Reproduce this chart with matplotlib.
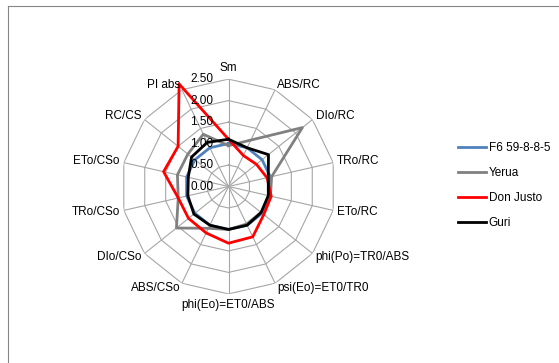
import numpy as np
import matplotlib
matplotlib.use("Agg")
import matplotlib.pyplot as plt
from matplotlib.lines import Line2D

plt.rcParams['font.family'] = ['Liberation Sans', 'DejaVu Sans']

# ------------------------------
# Data
# ------------------------------
labels = ["Sm", "ABS/RC", "DIo/RC", "TRo/RC", "ETo/RC", "phi(Po)=TR0/ABS",
          "psi(Eo)=ET0/TR0", "phi(Eo)=ET0/ABS", "ABS/CSo", "DIo/CSo",
          "TRo/CSo", "ETo/CSo", "RC/CS", "PI abs"]
f6 = [1.0, 1.0, 1.0, 1.0, 1.0, 1.0, 1.0, 1.0, 1.0, 1.0, 1.0, 1.0, 1.0, 1.0]
yerua = [0.95, 1.2, 2.2, 1.03, 1.0, 0.97, 0.97, 1.0, 1.08, 1.55, 1.2, 1.22, 1.21, 1.35]
don_justo = [1.1, 0.8, 0.83, 0.92, 1.02, 1.05, 1.3, 1.32, 1.2, 1.19, 1.2, 1.55, 1.5, 2.65]
guri = [1.1, 1.0, 1.19, 0.95, 0.95, 0.97, 1.0, 1.0, 1.0, 1.03, 0.97, 0.96, 1.1, 1.14]
series_names = ["F6 59-8-8-5", "Yerua", "Don Justo", "Guri"]
r_ticks = [0.0, 0.5, 1.0, 1.5, 2.0, 2.5]

colors = ["#4F81BD", "#808080", "#FF0000", "#000000"]
grid_col = "#A6A6A6"
fs = 8.5

# ------------------------------
# Figure / polar axes
# ------------------------------
W, H = 559, 363
fig = plt.figure(figsize=(W / 100, H / 100), dpi=100)
cx, cy, rad = 228.5, 186.5, 107.4
ax = fig.add_axes([(cx - rad) / W, (H - cy - rad) / H, 2 * rad / W, 2 * rad / H],
                  projection='polar')
ax.set_theta_offset(np.pi / 2)
ax.set_theta_direction(-1)
ax.set_ylim(0, 2.5)
ax.grid(False)
ax.spines['polar'].set_visible(False)
ax.set_xticks([])
ax.set_yticks([])
ax.patch.set_alpha(0)

n = len(labels)
theta = np.arange(n) * 2 * np.pi / n
theta_closed = np.append(theta, theta[0])

# polygon web grid
for r in r_ticks[1:]:
    ax.plot(theta_closed, [r] * (n + 1), color=grid_col, lw=0.8, zorder=1)
for t in theta:
    ax.plot([t, t], [0, 2.5], color=grid_col, lw=0.8, zorder=1)

# series
for vals, name, c in zip([f6, yerua, don_justo, guri], series_names, colors):
    v = np.append(vals, vals[0])
    ax.plot(theta_closed, v, color=c, lw=2.0, label=name, zorder=3, clip_on=False)

# radial tick labels along Sm axis
for r in r_ticks:
    ax.annotate(f"{r:.2f}", xy=(0, r), xytext=(-15, 0), textcoords='offset pixels',
                ha='right', va='center', fontsize=fs, color='#000000', zorder=4)

# category labels
for t, lab in zip(theta, labels):
    s, c = np.sin(t), np.cos(t)
    if s > 0.1:
        ha = 'left'
    elif s < -0.1:
        ha = 'right'
    else:
        ha = 'center'
    if abs(s) <= 0.1:
        va = 'bottom' if c > 0 else 'top'
    else:
        va = 'center'
    ax.annotate(lab, xy=(t, 2.5), xytext=(4 * s, 5 * c), textcoords='offset pixels',
                ha=ha, va=va, fontsize=fs, color='#000000', annotation_clip=False)

# legend
fig.legend(loc='center left', bbox_to_anchor=(452 / W, 1 - 185.5 / H),
           frameon=False, fontsize=fs, handlelength=2.4, handletextpad=0.2,
           labelspacing=1.1, borderpad=0)

# chart border (only top and left edges fall inside the picture)
bx, by = 7.5 / W, 1 - 5.5 / H
fig.add_artist(Line2D([bx, 1], [by, by], transform=fig.transFigure,
                      color='#868686', lw=0.8))
fig.add_artist(Line2D([bx, bx], [0, by], transform=fig.transFigure,
                      color='#868686', lw=0.8))

fig.savefig("out.png", dpi=100)
